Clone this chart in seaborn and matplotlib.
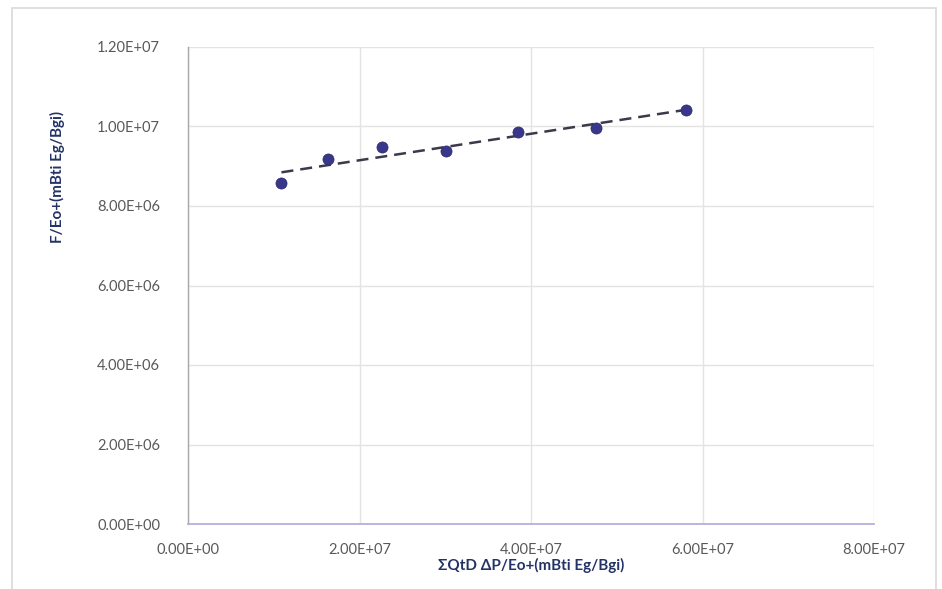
import matplotlib
matplotlib.use("Agg")
import matplotlib.pyplot as plt
import seaborn as sns
import numpy as np
import pandas as pd
from matplotlib.patches import Rectangle
from matplotlib.ticker import FuncFormatter

# Data
x_vals = [1.09e7, 1.63e7, 2.26e7, 3.01e7, 3.85e7, 4.76e7, 5.81e7]
y_vals = [8.58e6, 9.18e6, 9.48e6, 9.38e6, 9.86e6, 9.96e6, 10.42e6]
x_ticks = [0, 2e7, 4e7, 6e7, 8e7]
y_ticks = [0, 2e6, 4e6, 6e6, 8e6, 1e7, 1.2e7]
x_label = "ΣQtD ΔP/Eo+(mBti Eg/Bgi)"
y_label = "F/Eo+(mBti Eg/Bgi)"

df = pd.DataFrame({"x": x_vals, "y": y_vals})

sns.set_theme(style="whitegrid")
plt.rcParams["font.family"] = ["Lato", "DejaVu Sans"]

fig = plt.figure(figsize=(9.42, 5.89), dpi=100)
fig.patch.set_facecolor("white")
ax = fig.add_axes([188/942, 1 - 524/589, (874 - 188)/942, (524 - 47)/589])

sns.regplot(data=df, x="x", y="y", ax=ax, ci=None, truncate=True,
            scatter_kws=dict(s=64, color="#39378a", edgecolor="#2c2a6e",
                             linewidths=0.5, alpha=1.0, zorder=3),
            line_kws=dict(color="#3a3a4a", lw=1.8, dashes=(4.8, 2.8), zorder=2))

ax.set_xlim(0, 8e7)
ax.set_ylim(0, 1.2e7)
ax.set_xticks(x_ticks)
ax.set_yticks(y_ticks)
fmt = FuncFormatter(lambda v, p: f"{v:.2E}")
ax.xaxis.set_major_formatter(fmt)
ax.yaxis.set_major_formatter(fmt)
ax.tick_params(axis="both", length=0, labelsize=10.5, labelcolor="#595959")
ax.tick_params(axis="x", pad=14)
ax.tick_params(axis="y", pad=20)

ax.grid(True, color="#e3e3e3", linewidth=1.0)
ax.set_facecolor("white")
for s in ["top", "right"]:
    ax.spines[s].set_visible(False)
ax.spines["left"].set_color("#a8a8a8")
ax.spines["left"].set_linewidth(1.0)
ax.spines["bottom"].set_color("#b4b0dc")
ax.spines["bottom"].set_linewidth(1.3)

ax.set_xlabel(x_label, fontsize=11, fontweight="bold", color="#243366", labelpad=0)
ax.set_ylabel(y_label, fontsize=11, fontweight="bold", color="#243366")
ax.yaxis.set_label_coords((65 - 188) / 686, (524 - 177) / 477)

# light chart-area border
fig.patches.append(Rectangle((12/942, -0.01), (936 - 12)/942, 1 - 8/589 + 0.01,
                             transform=fig.transFigure, fill=False,
                             edgecolor="#d9d9d9", linewidth=1.2))

fig.savefig("out.png", dpi=100, facecolor="white")
